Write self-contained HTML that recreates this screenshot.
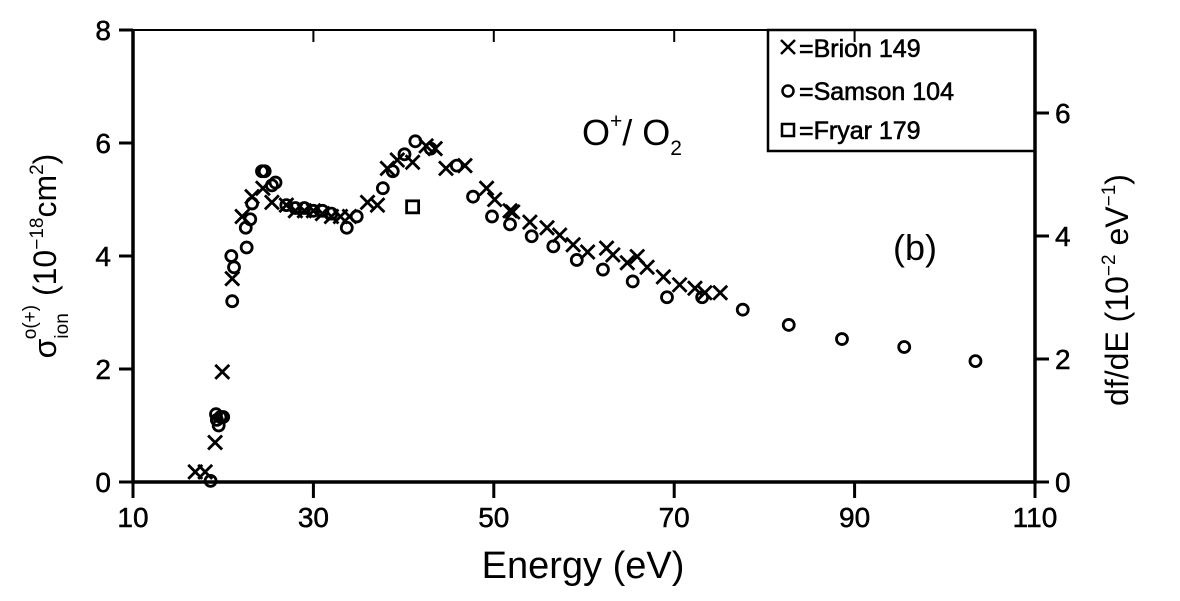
<!DOCTYPE html>
<html><head><meta charset="utf-8"><style>
body{margin:0;background:#fff;}
svg{display:block;font-family:"Liberation Sans",sans-serif;}
</style></head><body>
<svg id="chart" width="1180" height="601" xmlns="http://www.w3.org/2000/svg">
<rect x="0" y="0" width="1180" height="601" fill="#fff"/>
<g id="axes"></g>
<g id="marks"></g>
<g>
<rect x="768" y="30" width="267" height="121" fill="none" stroke="#000" stroke-width="2.5"/>
<g><path d="M781 40 L795 54 M795 40 L781 54" stroke="#000" stroke-width="2.5"/><text x="799" y="57" font-size="25" stroke="#000" stroke-width="0.6">=Brion 149</text></g>
<g><circle cx="788" cy="91" r="5.5" fill="none" stroke="#000" stroke-width="2.5"/><text x="799" y="100" font-size="25" stroke="#000" stroke-width="0.6">=Samson 104</text></g>
<g><rect x="782" y="124" width="12" height="12" fill="none" stroke="#000" stroke-width="2.5"/><text x="799" y="139" font-size="25" stroke="#000" stroke-width="0.6">=Fryar 179</text></g>
</g>
<text x="582" y="145" font-size="36">O<tspan dy="-17" font-size="21">+</tspan><tspan dy="17">/ O</tspan><tspan dy="10" font-size="21">2</tspan></text>
<text x="893" y="260" font-size="36">(b)</text>
<text x="583" y="578" font-size="38" text-anchor="middle">Energy (eV)</text>
<text transform="translate(56,256) rotate(-90)" font-size="32" text-anchor="middle">σ<tspan dy="12" font-size="19">ion</tspan><tspan dy="-32" dx="-26" font-size="19">o(+)</tspan><tspan dy="20"> (10</tspan><tspan dy="-13" font-size="19">−18</tspan><tspan dy="13">cm</tspan><tspan dy="-13" font-size="19">2</tspan><tspan dy="13">)</tspan></text>
<text transform="translate(1128,290) rotate(-90)" font-size="32" text-anchor="middle">df/dE (10<tspan dy="-13" font-size="19">−2</tspan><tspan dy="13"> eV</tspan><tspan dy="-13" font-size="19">−1</tspan><tspan dy="13">)</tspan></text>
</svg>
<script>
const xTicks=[10,30,50,70,90,110];
const yTicks=[0,2,4,6,8];
const rTicks=[0,2,4,6];
const brionE=[16.9,18.0,19.1,19.9,21.0,22.1,23.2,24.4,25.4,27,28,29,30,31,32,33,34,36.0,37.1,38.2,39.3,41.0,42.5,43.5,44.7,46.8,49.2,50.1,51.8,52.1,54.0,55.9,57.3,58.8,60.4,62.5,63.2,64.8,65.9,67.0,68.8,70.6,72.3,73.4,75.1];
const brionS=[0.18,0.18,0.7,1.95,3.6,4.7,5.05,5.2,4.95,4.9,4.8,4.8,4.8,4.75,4.7,4.7,4.7,4.95,4.9,5.55,5.7,5.66,5.95,5.9,5.55,5.6,5.2,5.0,4.8,4.78,4.6,4.5,4.37,4.2,4.07,4.14,4.02,3.88,3.99,3.8,3.63,3.49,3.43,3.35,3.35];
const samsonE=[18.6,19.2,19.3,19.5,19.7,20.0,20.9,21.0,21.2,22.5,22.6,23.0,23.2,24.3,24.6,25.4,25.8,27,28,29,30,31,32,33.7,34.8,37.7,38.8,40.1,41.3,43,45.9,47.7,49.8,51.8,54.2,56.6,59.2,62.1,65.4,69.2,73.1,77.6,82.7,88.6,95.5,103.4];
const samsonS=[0.02,1.2,1.1,1.0,1.15,1.15,4.0,3.2,3.8,4.5,4.15,4.65,4.93,5.5,5.5,5.25,5.3,4.9,4.85,4.85,4.8,4.8,4.75,4.5,4.7,5.2,5.5,5.8,6.03,5.9,5.6,5.05,4.7,4.56,4.35,4.17,3.93,3.76,3.55,3.27,3.27,3.05,2.78,2.53,2.39,2.14];
const fryarE=[41.0];
const fryarS=[4.87];
const X0=133,X1=1035,Y0=482,Y1=30;
const xs=e=>X0+(e-10)/(110-10)*(X1-X0);
const ys=v=>Y0-(v/8)*(Y0-Y1);
const yr=v=>Y0-v*61.5;
const NS="http://www.w3.org/2000/svg";
const ax=document.getElementById('axes'),mk=document.getElementById('marks');
function mkEl(t,a,p){const e=document.createElementNS(NS,t);for(const k in a)e.setAttribute(k,a[k]);p.appendChild(e);return e;}
const frame=mkEl('path',{d:`M${X0} ${Y1} V${Y0} H${X1} V${Y1}`,fill:'none',stroke:'#000','stroke-width':3.5},ax);


mkEl('line',{x1:X0,y1:Y1,x2:768,y2:Y1,stroke:'#000','stroke-width':2},ax);
xTicks.forEach(t=>{const x=xs(t);
mkEl('line',{x1:x,y1:Y0,x2:x,y2:Y0+16,stroke:'#000','stroke-width':3},ax);
mkEl('line',{x1:x,y1:Y1,x2:x,y2:Y1+12,stroke:'#000','stroke-width':2},ax);
const tx=mkEl('text',{x:x,y:Y0+45,'font-size':28,'text-anchor':'middle',stroke:'#000','stroke-width':0.5},ax);tx.textContent=t;

});
yTicks.forEach(t=>{const y=ys(t);
mkEl('line',{x1:X0-14,y1:y,x2:X0,y2:y,stroke:'#000','stroke-width':3},ax);
const tx=mkEl('text',{x:X0-22,y:y+10,'font-size':28,'text-anchor':'end',stroke:'#000','stroke-width':0.5},ax);tx.textContent=t;

});
rTicks.forEach(t=>{const y=yr(t);
mkEl('line',{x1:X1,y1:y,x2:X1+14,y2:y,stroke:'#000','stroke-width':3},ax);
const tx=mkEl('text',{x:X1+20,y:y+10,'font-size':28,stroke:'#000','stroke-width':0.5},ax);tx.textContent=t;

});
brionE.forEach((e,i)=>{const x=xs(e),y=ys(brionS[i]);
const p=mkEl('path',{d:`M${x-7} ${y-7} L${x+7} ${y+7} M${x+7} ${y-7} L${x-7} ${y+7}`,stroke:'#000','stroke-width':2.8},mk);

});
samsonE.forEach((e,i)=>{const c=mkEl('circle',{cx:xs(e),cy:ys(samsonS[i]),r:5.5,fill:'none',stroke:'#000','stroke-width':2.8},mk);

});
fryarE.forEach((e,i)=>{const r=mkEl('rect',{x:xs(e)-6,y:ys(fryarS[i])-6,width:12,height:12,fill:'none',stroke:'#000','stroke-width':2.8},mk);

});
</script>
</body></html>
